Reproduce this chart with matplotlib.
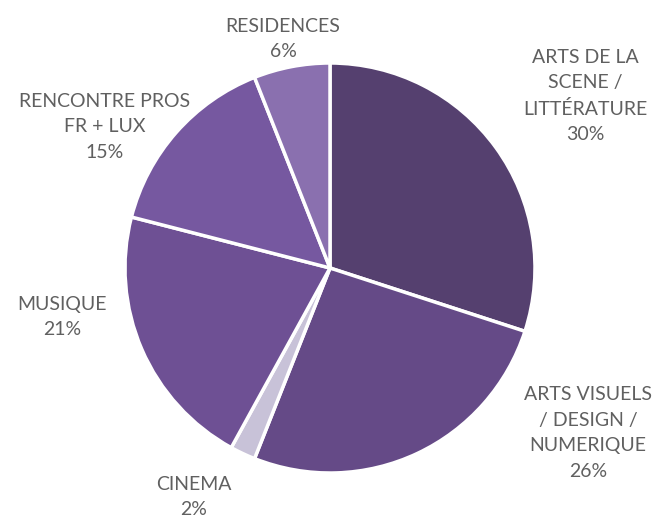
import matplotlib
matplotlib.use("Agg")
import matplotlib.pyplot as plt
import numpy as np

categories = ["ARTS DE LA\nSCENE /\nLITTÉRATURE", "ARTS VISUELS\n/ DESIGN /\nNUMERIQUE", "CINEMA",
              "MUSIQUE", "RENCONTRE PROS\nFR + LUX", "RESIDENCES"]
values = [30, 26, 2, 21, 15, 6]
colors = ["#55406F", "#654A87", "#C8C2D8", "#6E5094", "#7658A0", "#8A70AF"]
label_pos = [(585, 96), (588, 433), (194, 497), (62, 317), (105, 127), (283, 39)]

W, H = 658, 519
fig = plt.figure(figsize=(W / 100, H / 100), dpi=100)
ax = fig.add_axes([0, 0, 1, 1])

cx, cy, r = 330, 268, 205
ax.pie(values, colors=colors, startangle=90, counterclock=False,
       center=(cx, H - cy), radius=r, frame=False,
       wedgeprops=dict(edgecolor="white", linewidth=2.5))
ax.set_xlim(0, W)
ax.set_ylim(0, H)
ax.set_aspect("equal")
ax.axis("off")

for cat, v, (x, y) in zip(categories, values, label_pos):
    ax.text(x, H - y, f"{cat}\n{v}%", ha="center", va="center",
            fontsize=14, color="#606060", family=["Lato", "DejaVu Sans"],
            linespacing=1.6)

fig.savefig("out.png", dpi=100)
